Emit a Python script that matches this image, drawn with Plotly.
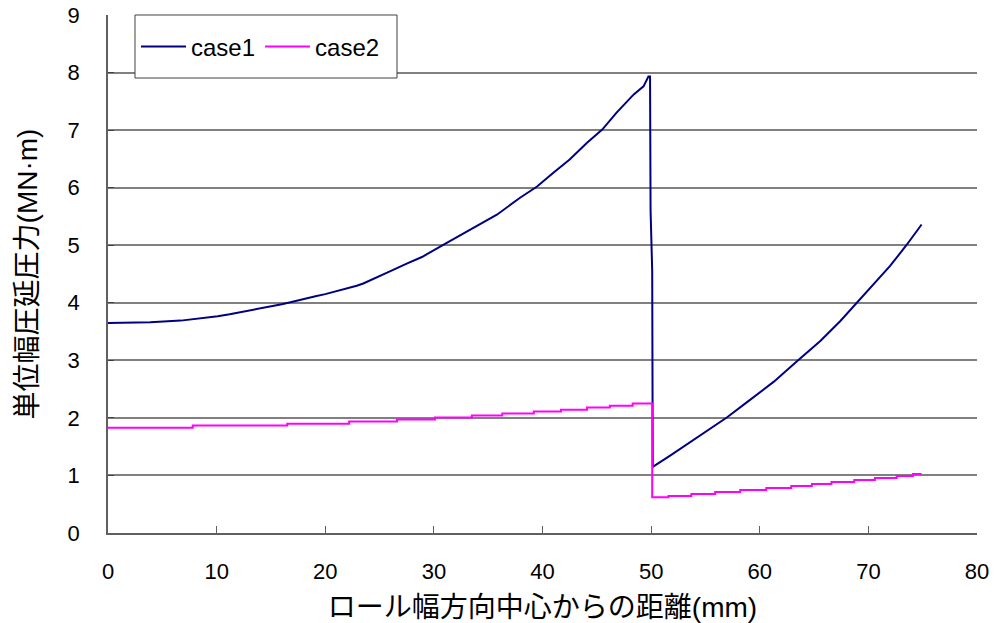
import plotly.graph_objects as go

# ---- data ----
case1_x = [0, 3.9, 6.7, 8.5, 10.1, 11.2, 12.3, 13.3, 14.4, 15.2, 16.0, 16.8, 17.5, 18.3,
           19.1, 20.0, 20.7, 21.5, 22.3, 22.9, 23.5, 24.0, 26.0, 27.5, 28.9, 30.9, 33.3,
           35.8, 37.9, 39.5, 41.0, 42.5, 44.1, 45.5, 46.8, 48.4, 49.3, 49.75, 49.9,
           49.95, 50.1, 50.15, 51.75, 54.2, 57.0, 58.8, 61.3, 63.4, 65.6, 67.4, 68.8,
           70.5, 72.0, 73.5, 74.9]
case1_y = [3.647, 3.66, 3.69, 3.725, 3.765, 3.80, 3.84, 3.87, 3.905, 3.94, 3.975, 4.01,
           4.045, 4.08, 4.115, 4.15, 4.185, 4.22, 4.26, 4.295, 4.335, 4.38, 4.55, 4.68,
           4.795, 5.01, 5.27, 5.53, 5.82, 6.02, 6.26, 6.49, 6.78, 7.01, 7.30, 7.62, 7.76,
           7.93, 7.93, 5.6, 4.55, 1.15, 1.345, 1.66, 2.01, 2.27, 2.63, 2.98, 3.34, 3.68,
           3.97, 4.32, 4.64, 5.0, 5.36]

case2_x = [0, 7.8, 16.5, 22.2, 26.6, 30.1, 33.5, 36.3, 39.2, 41.7, 44.1, 46.2, 48.3,
           50.1, 51.6, 53.7, 55.9, 58.2, 60.6, 62.9, 64.8, 66.6, 68.7, 70.6, 72.6, 74.1, 74.9]
case2_y = [1.83, 1.866, 1.90, 1.936, 1.97, 2.005, 2.04, 2.075, 2.11, 2.14, 2.18, 2.21, 2.25,
           0.62, 0.643, 0.678, 0.713, 0.748, 0.783, 0.817, 0.852, 0.887, 0.92, 0.957, 0.99,
           1.026, 1.026]

x_ticks = [0, 10, 20, 30, 40, 50, 60, 70, 80]
y_ticks = [0, 1, 2, 3, 4, 5, 6, 7, 8, 9]
x_title = "ロール幅方向中心からの距離(mm)"
y_title = "単位幅圧延圧力(MN·m)"

FONT = "Liberation Sans, Arial, Noto Sans CJK JP, sans-serif"

W, H = 996, 623
ML, MR, MT, MB = 108, 19, 15, 90
PW, PH = W - ML - MR, H - MT - MB

def px_x(p):
    return (p - ML) / PW

def px_y(p):
    return (H - MB - p) / PH

fig = go.Figure()
fig.add_trace(go.Scatter(x=case1_x, y=case1_y, mode="lines", name="case1",
                         line=dict(color="#000080", width=2)))
fig.add_trace(go.Scatter(x=case2_x, y=case2_y, mode="lines", name="case2",
                         line=dict(color="#FF00FF", width=2, shape="hv")))

# legend frame
fig.add_shape(type="rect", xref="paper", yref="paper",
              x0=px_x(135), x1=px_x(397), y0=px_y(78), y1=px_y(15),
              fillcolor="white", line=dict(color="#404040", width=1), layer="above")

fig.update_layout(
    width=W, height=H,
    margin=dict(l=ML, r=MR, t=MT, b=MB, autoexpand=False),
    paper_bgcolor="white", plot_bgcolor="white",
    font=dict(family=FONT, size=22, color="black"),
    showlegend=True,
    legend=dict(orientation="h", x=px_x(136), y=px_y(47), xanchor="left", yanchor="middle",
                bgcolor="rgba(0,0,0,0)", borderwidth=0,
                font=dict(size=24), itemwidth=45, valign="middle"),
)
fig.update_xaxes(range=[0, 80], tickvals=x_ticks, ticktext=[str(v) for v in x_ticks],
                 showgrid=False, zeroline=False, showline=True, linecolor="#606060",
                 linewidth=1.5, ticks="inside", ticklen=7, tickcolor="#606060",
                 tickfont=dict(size=22), ticklabelstandoff=18, automargin=False,
                 title=dict(text=x_title, font=dict(size=28), standoff=14))
fig.update_yaxes(range=[0, 9], tickvals=y_ticks, ticktext=[str(v) for v in y_ticks],
                 showgrid=True, gridcolor="#808080", gridwidth=1.5, zeroline=False,
                 showline=True, linecolor="#606060", linewidth=1.5,
                 ticks="inside", ticklen=6, tickcolor="#404040",
                 tickfont=dict(size=22), ticklabelstandoff=22, automargin=False,
                 title=dict(text=y_title, font=dict(size=28), standoff=22))

fig.write_html("out.html", config={"displayModeBar": False},
               post_script="document.body.style.margin='0';document.body.style.overflow='hidden';")
